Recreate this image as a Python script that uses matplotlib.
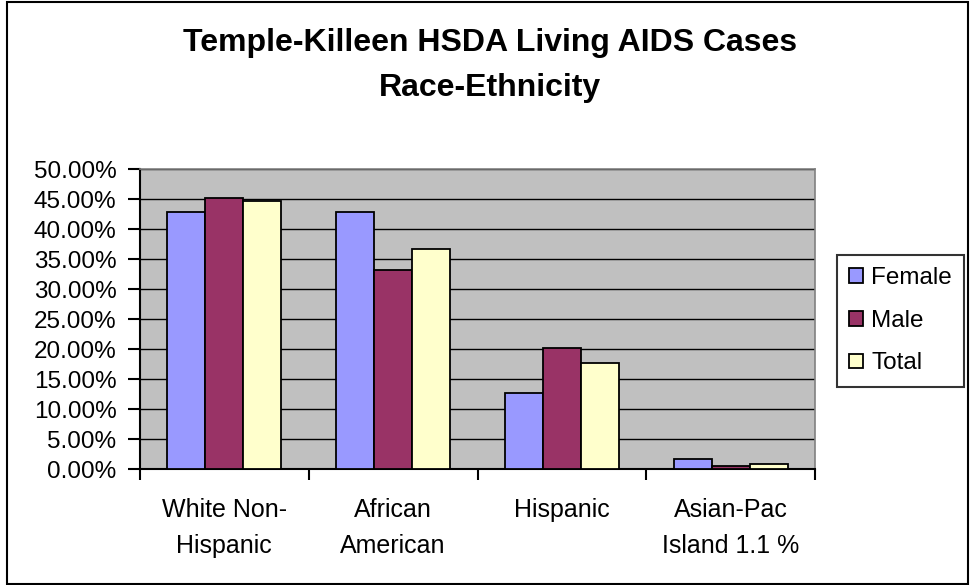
import numpy as np
import matplotlib
matplotlib.use("Agg")
import matplotlib.pyplot as plt
from matplotlib.patches import Rectangle
from matplotlib.ticker import FuncFormatter

plt.rcParams['font.family'] = ['Liberation Sans', 'DejaVu Sans']

# Living AIDS cases by race/ethnicity (share of each group)
categories = ['White Non-\nHispanic', 'African\nAmerican', 'Hispanic', 'Asian-Pac\nIsland 1.1 %']
female = [42.8, 42.8, 12.6, 1.6]
male = [45.2, 33.2, 20.2, 0.55]
total = [44.6, 36.6, 17.6, 0.9]
series = [('Female', female, '#9999FF'), ('Male', male, '#993366'), ('Total', total, '#FFFFCC')]

fig = plt.figure(figsize=(9.73, 5.85), dpi=100)
ax = fig.add_axes([140 / 973, 1 - 469 / 585, 675 / 973, 300 / 585])
ax.set_facecolor('#C0C0C0')

x = np.arange(len(categories))
width = 0.225
for i, (name, vals, color) in enumerate(series):
    ax.bar(x + (i - 1) * width, vals, width, color=color, edgecolor='black',
           linewidth=1.3, label=name, zorder=3)

ax.set_xlim(-0.5, len(categories) - 0.5)
ax.set_ylim(0, 50)
ax.set_yticks(np.arange(0, 51, 5))
ax.yaxis.set_major_formatter(FuncFormatter(lambda v, p: f'{v:.2f}%'))
ax.yaxis.grid(True, color='black', linewidth=1, zorder=1)
ax.set_axisbelow(True)

ax.set_xticks(x)
ax.set_xticklabels(categories, fontsize=18, linespacing=1.6)
ax.set_xticks(np.arange(-0.5, len(categories)), minor=True)
ax.tick_params(axis='x', which='major', length=0, pad=21)
ax.tick_params(axis='x', which='minor', length=8, width=1.5, direction='out')
ax.tick_params(axis='y', length=9, width=1.5, direction='out', labelsize=17.5, pad=8)

for side in ('top', 'right'):
    ax.spines[side].set_color('#808080')
    ax.spines[side].set_linewidth(1.2)
for side in ('left', 'bottom'):
    ax.spines[side].set_color('black')
    ax.spines[side].set_linewidth(1.5)

fig.text(490 / 973, 1 - 43 / 585, 'Temple-Killeen HSDA Living AIDS Cases',
         ha='center', va='center', fontsize=23, fontweight='bold')
fig.text(490 / 973, 1 - 88 / 585, 'Race-Ethnicity',
         ha='center', va='center', fontsize=23, fontweight='bold')

leg = fig.legend(loc='upper left', bbox_to_anchor=(837 / 973, 1 - 255 / 585),
                 fontsize=17.5, frameon=True, fancybox=False, edgecolor='black',
                 handlelength=0.55, handleheight=0.55, handletextpad=0.35,
                 labelspacing=0.85, borderpad=0.5, borderaxespad=0)
leg.get_frame().set_linewidth(1.5)

# outer chart border
fig.patches.append(Rectangle((7 / 973, 1 / 585), 961 / 973, 582 / 585,
                             transform=fig.transFigure, fill=False,
                             edgecolor='black', linewidth=1.5))

fig.savefig('out.png', dpi=100)
